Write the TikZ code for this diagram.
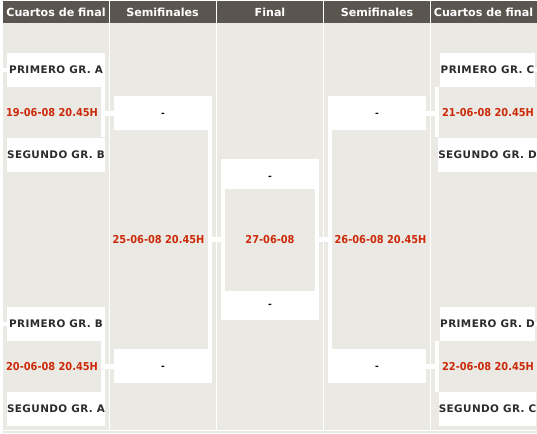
\documentclass[tikz,border=0pt]{standalone}
\usepackage{fontspec}
\setmainfont{DejaVu Sans}
\newfontfamily\fechafont{DejaVu Sans Condensed}
\newfontfamily\equipofont[LetterSpace=4]{DejaVu Sans}
\definecolor{cabecera}{HTML}{5A564F}
\definecolor{fondo}{HTML}{EAE9E3}
\definecolor{rojo}{HTML}{CC2A0A}
\definecolor{equipo}{HTML}{2E2B2E}
\tikzset{
caja/.style={fill=white,minimum width=98pt,minimum height=34pt,inner sep=0pt,text=equipo,font=\equipofont\bfseries\fontsize{10.4}{11}\selectfont},
cajad/.style={caja,minimum width=95pt},
fecha/.style={inner sep=0pt,text=rojo,font=\fechafont\bfseries\fontsize{10.9}{11}\selectfont},
titulo/.style={text=white,font=\bfseries\fontsize{11.1}{12}\selectfont},
guion/.style={inner sep=0pt,yshift=-2pt,text=black,font=\bfseries\fontsize{9}{9}\selectfont},
enlace/.style={draw=white,line width=4pt},
rama/.style={draw=white,line width=5pt}
}
\begin{document}
\begin{tikzpicture}[x=1pt,y=-1pt]
\useasboundingbox (0,0) rectangle (537,433);
\fill[white] (0,0) rectangle (537,433);
\fill[cabecera] (3,1) rectangle (537,23);
\fill[fondo] (3,23) rectangle (537,433);
\fill[white] (3,430) rectangle (537,431);
\foreach \x in {109,216,323,430}
\fill[white] (\x,0) rectangle (\x+1,430);
\node[titulo] (t1) at (56,12) {Cuartos de final};
\node[titulo] (t2) at (162.5,12) {Semifinales};
\node[titulo] (t3) at (270,12) {Final};
\node[titulo] (t4) at (377,12) {Semifinales};
\node[titulo] (t5) at (483.5,12) {Cuartos de final};
\coordinate (borde) at (0,0);
\coordinate (fin) at (537,0);
\node[caja] (qa1) at (56,70) {PRIMERO GR. A};
\node[fecha] (d1) at (52,113) {19-06-08 20.45H};
\node[caja] (qb2) at (56,154.5) {SEGUNDO GR. B};
\node[caja] (qb1) at (56,324) {PRIMERO GR. B};
\node[fecha] (d2) at (52,367) {20-06-08 20.45H};
\node[caja] (qa2) at (56,409) {SEGUNDO GR. A};
\node[cajad] (qc1) at (487.5,70) {PRIMERO GR. C};
\node[fecha] (d3) at (488,113) {21-06-08 20.45H};
\node[cajad] (qd2) at (487.5,154.5) {SEGUNDO GR. D};
\node[cajad] (qd1) at (487.5,324) {PRIMERO GR. D};
\node[fecha] (d4) at (488,367) {22-06-08 20.45H};
\node[cajad] (qc2) at (487.5,409) {SEGUNDO GR. C};
\node[caja] (s1) at (163,113) {};
\node[caja] (s2) at (163,366) {};
\node[caja] (s3) at (377,113) {};
\node[caja] (s4) at (377,366) {};
\node[guion] at (s1) {-};
\node[guion] at (s2) {-};
\node[guion] at (s3) {-};
\node[guion] at (s4) {-};
\node[fecha] (d5) at (158.5,240) {25-06-08 20.45H};
\node[fecha] (d6) at (380.5,240) {26-06-08 20.45H};
\node[caja,minimum height=161pt] (f) at (270,239.5) {};
\node[fill=fondo,minimum width=90pt,minimum height=102pt,inner sep=0pt] (fi) at (270,240) {};
\node[fecha] (d7) at (fi) {27-06-08};
\node[guion] (g1) at (270,176) {-};
\node[guion] (g2) at (270,303.5) {-};
\coordinate (ba) at ([xshift=-2pt]qa1.south east);
\coordinate (bb) at ([xshift=-2pt]qb1.south east);
\coordinate (bc) at ([xshift=-3pt]qc1.south west);
\coordinate (bd) at ([xshift=-3pt]qd1.south west);
\coordinate (bs) at ([xshift=-2pt]s1.south east);
\coordinate (bt) at ([xshift=2pt]s3.south west);
\draw[enlace] (ba) -- (ba |- qb2.north);
\draw[enlace] (bb) -- (bb |- qa2.north);
\draw[enlace] (bc) -- (bc |- qd2.north);
\draw[enlace] (bd) -- (bd |- qc2.north);
\draw[rama] (ba |- s1) -- (s1.west);
\draw[rama] (bb |- s2) -- (s2.west);
\draw[rama] (s3.east) -- (bc |- s3);
\draw[rama] (s4.east) -- (bd |- s4);
\draw[enlace] (bs) -- (bs |- s2.north);
\draw[enlace] (bt) -- (bt |- s4.north);
\draw[rama] (bs |- f) -- (f.west);
\draw[rama] (f.east) -- (bt |- f);
\draw[enlace] (qa1.west) -- (qa1.west -| borde);
\draw[enlace] (qb1.west) -- (qb1.west -| borde);
\draw[enlace] (qc1.east) -- (qc1.east -| fin);
\draw[enlace] (qd1.east) -- (qd1.east -| fin);
\end{tikzpicture}
\end{document}
